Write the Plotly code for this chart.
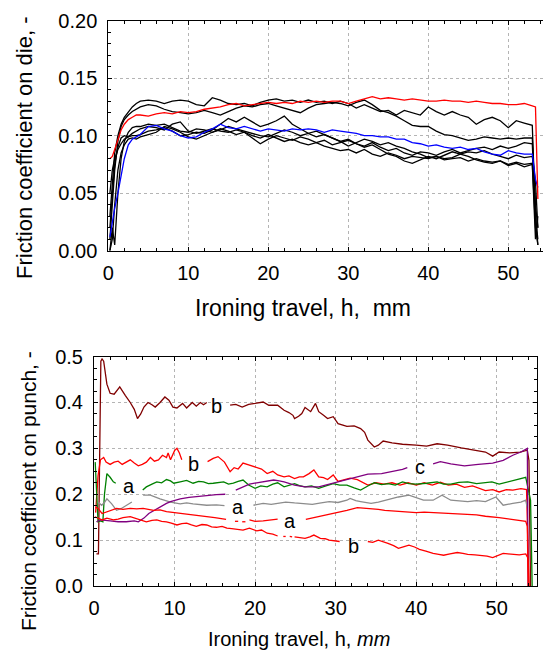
import plotly.graph_objects as go

# ---------------- top chart: friction coefficient on die ----------------
top_x = [0.2, 0.5, 0.8, 1.2, 1.6, 2.0, 2.5, 3.0, 3.5, 4.0,
         5, 6, 7, 8, 9, 10, 11, 12, 13, 14,
         15, 16, 17, 18, 19, 20, 21, 22, 23, 24,
         25, 26, 27, 28, 29, 30, 31, 32, 33, 34,
         35, 36, 37, 38, 39, 40, 41, 42, 43, 44,
         45, 46, 47, 48, 49, 50, 51, 52, 53,
         53.4, 53.7]

die_red = [0.080, 0.082, 0.088, 0.097, 0.105, 0.110, 0.114, 0.116, 0.118, 0.118,
           0.117, 0.119, 0.120, 0.119, 0.121, 0.120, 0.121, 0.123, 0.124, 0.125,
           0.127, 0.128, 0.126, 0.127, 0.128, 0.129, 0.128, 0.129, 0.128, 0.130,
           0.129, 0.130, 0.129, 0.130, 0.130, 0.128, 0.130, 0.132, 0.134, 0.132,
           0.133, 0.132, 0.131, 0.132, 0.131, 0.130, 0.130, 0.131, 0.130, 0.130,
           0.129, 0.130, 0.129, 0.128, 0.128, 0.127, 0.127, 0.128, 0.126,
           0.125, 0.045]

die_blue = [0.012, 0.025, 0.037, 0.050, 0.064, 0.080, 0.092, 0.097, 0.099, 0.101,
            0.108, 0.109, 0.106, 0.104, 0.100, 0.098, 0.099, 0.103, 0.106, 0.110,
            0.107, 0.106, 0.108, 0.106, 0.104, 0.106, 0.105, 0.104, 0.106, 0.105,
            0.106, 0.105, 0.103, 0.105, 0.104, 0.103, 0.102, 0.100, 0.100, 0.099,
            0.099, 0.097, 0.097, 0.094, 0.093, 0.091, 0.092, 0.090, 0.089, 0.090,
            0.088, 0.089, 0.086, 0.084, 0.083, 0.087, 0.085, 0.084, 0.084,
            0.062, 0.055]

die_k1 = [0.030, 0.060, 0.085, 0.100, 0.110, 0.116, 0.121, 0.125, 0.128, 0.130,
          0.131, 0.130, 0.128, 0.130, 0.131, 0.130, 0.127, 0.126, 0.133, 0.131,
          0.128, 0.127, 0.128, 0.126, 0.129, 0.131, 0.132, 0.130, 0.131, 0.129,
          0.131, 0.129, 0.130, 0.128, 0.130, 0.128, 0.124, 0.127, 0.124, 0.121,
          0.122, 0.118, 0.122, 0.120, 0.118, 0.125, 0.121, 0.118, 0.121, 0.118,
          0.116, 0.110, 0.114, 0.116, 0.113, 0.107, 0.113, 0.111, 0.109,
          0.030, 0.005]

die_k2 = [0.010, 0.040, 0.070, 0.095, 0.108, 0.114, 0.118, 0.121, 0.123, 0.125,
          0.127, 0.126, 0.123, 0.121, 0.120, 0.119, 0.120, 0.122, 0.120, 0.118,
          0.121, 0.124, 0.126, 0.125, 0.127, 0.128, 0.126, 0.124, 0.122, 0.120,
          0.124, 0.127, 0.128, 0.129, 0.128, 0.126, 0.129, 0.131, 0.127, 0.122,
          0.120, 0.117, 0.113, 0.109, 0.108, 0.108, 0.104, 0.101, 0.100, 0.098,
          0.096, 0.097, 0.099, 0.098, 0.097, 0.098, 0.097, 0.098, 0.098,
          0.040, 0.020]

die_k3 = [0.000, 0.020, 0.005, 0.050, 0.080, 0.095, 0.103, 0.107, 0.108, 0.108,
          0.110, 0.109, 0.110, 0.107, 0.104, 0.103, 0.106, 0.105, 0.103, 0.106,
          0.104, 0.101, 0.103, 0.100, 0.098, 0.101, 0.098, 0.095, 0.097, 0.094,
          0.092, 0.094, 0.091, 0.089, 0.087, 0.088, 0.085, 0.088, 0.084, 0.082,
          0.085, 0.083, 0.080, 0.082, 0.081, 0.080, 0.082, 0.079, 0.080, 0.081,
          0.078, 0.080, 0.078, 0.077, 0.078, 0.075, 0.077, 0.075, 0.076,
          0.020, 0.005]

die_k4 = [0.020, 0.050, 0.075, 0.090, 0.098, 0.100, 0.099, 0.102, 0.104, 0.106,
          0.108, 0.107, 0.105, 0.110, 0.112, 0.104, 0.102, 0.104, 0.106, 0.104,
          0.103, 0.105, 0.103, 0.098, 0.093, 0.097, 0.100, 0.098, 0.096, 0.099,
          0.097, 0.094, 0.096, 0.092, 0.094, 0.096, 0.093, 0.091, 0.094, 0.090,
          0.087, 0.089, 0.085, 0.083, 0.086, 0.085, 0.083, 0.086, 0.088, 0.085,
          0.087, 0.089, 0.090, 0.088, 0.091, 0.089, 0.091, 0.094, 0.093,
          0.030, 0.010]

die_k5 = [0.050, 0.070, 0.080, 0.088, 0.093, 0.097, 0.099, 0.100, 0.100, 0.101,
          0.104, 0.105, 0.107, 0.104, 0.100, 0.101, 0.103, 0.102, 0.105, 0.110,
          0.115, 0.112, 0.116, 0.112, 0.108, 0.110, 0.113, 0.117, 0.110, 0.106,
          0.102, 0.104, 0.101, 0.098, 0.095, 0.097, 0.093, 0.090, 0.092, 0.088,
          0.084, 0.082, 0.078, 0.076, 0.079, 0.082, 0.080, 0.083, 0.086, 0.084,
          0.082, 0.079, 0.077, 0.076, 0.078, 0.074, 0.076, 0.073, 0.075,
          0.010, 0.030]

die_k6 = [0.000, 0.010, 0.040, 0.070, 0.085, 0.092, 0.097, 0.098, 0.097, 0.099,
          0.101, 0.103, 0.108, 0.106, 0.103, 0.099, 0.097, 0.100, 0.103, 0.105,
          0.108, 0.106, 0.104, 0.102, 0.100, 0.099, 0.102, 0.105, 0.103, 0.100,
          0.102, 0.099, 0.101, 0.098, 0.095, 0.091, 0.094, 0.097, 0.095, 0.092,
          0.094, 0.091, 0.089, 0.086, 0.084, 0.081, 0.082, 0.080, 0.081, 0.084,
          0.086, 0.085, 0.087, 0.084, 0.082, 0.080, 0.083, 0.081, 0.082,
          0.060, 0.020]

# ---------------- bottom chart: friction coefficient on punch ----------------
brown_b_x = [0.3, 0.55, 0.85, 1.0, 1.2, 1.6, 2.0, 2.5, 3.2, 3.5, 3.9, 4.5, 5.0, 5.4, 5.8, 6.2,
             6.7, 7.2, 7.6, 8.2, 8.8, 9.3, 9.8, 10.3, 11.0, 11.5, 12.2, 12.7, 13.2, 13.6, 14.0,
             None, 16.9, 17.6, 18.4, 19.2, 20.0, 21.0, 21.7, 22.8, 23.6, 24.2, 24.7, 24.9,
             25.4, 25.8, 26.2, 26.9, 27.5, 27.9, 28.5, 29.0, 29.7, 30.3, 31.4, 32.3, 33.1,
             33.6, 34.0, 34.8, 35.3, 35.9, 37.0, 38.3, 40.0, 41.3, 42.6, 43.9, 45.6, 47.3,
             48.6, 49.5, 50.3, 51.6, 52.9, 53.8, 54.0, 54.2]
brown_b_y = [0.07, 0.07, 0.49, 0.495, 0.49, 0.44, 0.42, 0.418, 0.434, 0.425, 0.415, 0.40, 0.385,
             0.365, 0.375, 0.39, 0.40, 0.395, 0.39, 0.40, 0.412, 0.405, 0.39, 0.388, 0.398,
             0.388, 0.40, 0.392, 0.40, 0.395, 0.40,
             None, 0.394, 0.396, 0.39, 0.396, 0.398, 0.401, 0.394, 0.394, 0.383, 0.378, 0.372,
             0.365, 0.37, 0.376, 0.389, 0.38, 0.398, 0.38, 0.372, 0.365, 0.369, 0.354, 0.348,
             0.349, 0.343, 0.335, 0.318, 0.303, 0.307, 0.316, 0.312, 0.309, 0.307, 0.305,
             0.31, 0.307, 0.301, 0.296, 0.292, 0.283, 0.292, 0.29, 0.292, 0.296, 0.274, 0.0]

red_b_up_x = [0.2, 0.5, 0.8, 1.2, 1.5, 2.0, 2.5, 3.0, 3.5, 4.0, 4.5, 5.0, 5.5, 6.0, 6.5, 7.0,
              7.5, 8.0, 8.5, 9.0, 9.2, 9.5, 10.0, 10.3, 10.6, 10.9,
              None, 14.1, 14.8, 15.4, 16.2, 16.9, 17.4, 17.9, 18.5, 19.2, 20.0, 20.8, 21.5,
              22.2, 22.8, 23.6, 24.2, 24.9, 25.5, 26.0, 26.7, 27.3, 27.9, 28.5, 29.0, 29.7,
              30.3, 30.9, 31.8, 32.7, 33.4, 34.0, 35, 36, 37, 38, 39, 40, 41, 42, 43, 44,
              45, 46, 47, 48, 48.6, 49.5, 50.3, 51.2, 52.0, 53.0, 53.7, 54.0]
red_b_up_y = [0.16, 0.24, 0.275, 0.28, 0.27, 0.265, 0.27, 0.272, 0.265, 0.27, 0.275, 0.268,
              0.262, 0.265, 0.27, 0.28, 0.272, 0.275, 0.285, 0.28, 0.29, 0.275, 0.295, 0.30,
              0.29, 0.275,
              None, 0.271, 0.278, 0.282, 0.27, 0.249, 0.258, 0.255, 0.268, 0.264, 0.26, 0.255,
              0.245, 0.25, 0.242, 0.238, 0.240, 0.234, 0.238, 0.238, 0.245, 0.253, 0.238,
              0.236, 0.232, 0.242, 0.228, 0.231, 0.235, 0.232, 0.225, 0.22, 0.225, 0.222,
              0.225, 0.22, 0.225, 0.22, 0.225, 0.22, 0.226, 0.22, 0.222, 0.215, 0.218, 0.212,
              0.208, 0.21, 0.205, 0.21, 0.209, 0.212, 0.21, 0.0]

green_a_x = [0.15, 0.3, 0.5, 0.8, 1.1, 1.3, 1.6, 2.0, 2.4, 2.7,
             None, 6.05, 6.5, 7.2, 7.8, 8.4, 9.0, 9.5, 9.9, 10.7, 11.5, 12.3, 13.0, 13.6,
             14.2, 14.8, 15.5, 16.1, 16.7, 17.3, 17.9, 18.5, 19.2, 20.0, 20.7, 21.5, 22.2,
             22.8, 23.6, 24.2, 24.9, 25.5, 26.2, 27.0, 27.9, 28.8, 29.7, 30.5, 31.4, 32.3,
             33.1, 34.0, 34.8, 35.7, 36.5, 37.4, 38.3, 39.1, 40.0, 41.3, 42.6, 43.4, 44.3,
             45.3, 46.4, 47.5, 48.6, 49.4, 50.3, 51.2, 52.0, 52.8, 53.6, 54.2, 54.4]
green_a_y = [0.27, 0.20, 0.14, 0.142, 0.14, 0.20, 0.245, 0.237, 0.227, 0.224,
             None, 0.209, 0.216, 0.222, 0.227, 0.225, 0.232, 0.229, 0.224, 0.227, 0.23,
             0.224, 0.228, 0.227, 0.223, 0.224, 0.226, 0.227, 0.222, 0.224, 0.228, 0.231,
             0.22, 0.213, 0.218, 0.216, 0.222, 0.225, 0.216, 0.219, 0.223, 0.219, 0.216,
             0.218, 0.213, 0.218, 0.223, 0.22, 0.22, 0.214, 0.209, 0.218, 0.225, 0.221,
             0.223, 0.22, 0.227, 0.223, 0.222, 0.224, 0.227, 0.222, 0.222, 0.226, 0.227,
             0.223, 0.225, 0.227, 0.222, 0.226, 0.229, 0.232, 0.237, 0.187, 0.0]

gray_a_x = [0.5, 0.95, 1.3, 1.6, 2.2, 2.8, 3.4, 4.0, 4.7,
            None, 6.1, 7.0, 8.2, 9.5, 10.7, 11.5, 12.3, 13.2, 14.0, 15.2, 16.2,
            None, 19.8, 21.0, 22.0, 22.8, 23.8, 24.9, 26.0, 27.1, 28.2, 29.2, 30.3, 31.4,
            31.8, 32.5, 33.1, 34.4, 35.3, 36.1, 37.0, 37.8, 39.1, 40.0, 40.9, 42.1, 43.2,
            44.3, 45.4, 46.4, 47.5, 48.6, 49.9, 50.8, 52.0, 53.0, 53.6, 53.8]
gray_a_y = [0.183, 0.176, 0.182, 0.19, 0.179, 0.165, 0.169, 0.176, 0.183,
            None, 0.198, 0.198, 0.19, 0.183, 0.179, 0.181, 0.179, 0.177, 0.176, 0.177, 0.175,
            None, 0.176, 0.18, 0.178, 0.18, 0.183, 0.181, 0.179, 0.178, 0.181, 0.184, 0.182,
            0.187, 0.191, 0.186, 0.184, 0.18, 0.183, 0.187, 0.19, 0.194, 0.198, 0.193, 0.187,
            0.187, 0.198, 0.187, 0.186, 0.184, 0.186, 0.184, 0.194, 0.176, 0.18, 0.183,
            0.187, 0.17]

purple_c_x = [0.3, 0.8, 2.0, 3.0, 4.0, 5.0, 5.5, 6.2, 6.8, 7.5, 8.2, 9.0, 9.5, 10.7, 11.8,
              12.7, 14.1, 15.2, 16.3,
              None, 17.6, 18.5, 19.3, 20.2, 21.0, 22.3, 23.0, 23.6, 24.9, 26.2, 27.9, 29.2,
              30.0, 30.9, 32.7, 34.0, 35.7, 37.0, 38.3, 38.9,
              None, 42.1, 43.0, 44.3, 46.0, 47.7, 49.5, 50.8, 52.0, 53.0, 53.6, 53.8, 53.9]
purple_c_y = [0.14, 0.144, 0.142, 0.14, 0.14, 0.142, 0.14, 0.148, 0.158, 0.165, 0.173, 0.18,
              0.184, 0.19, 0.193, 0.195, 0.198, 0.199, 0.2,
              None, 0.209, 0.215, 0.222, 0.225, 0.227, 0.231, 0.229, 0.227, 0.22, 0.216,
              0.216, 0.222, 0.226, 0.231, 0.238, 0.244, 0.245, 0.249, 0.254, 0.258,
              None, 0.266, 0.271, 0.266, 0.262, 0.265, 0.268, 0.274, 0.285, 0.292, 0.298,
              0.30, 0.0]

red_a_x = [0.2, 0.5, 1.0, 1.6, 2.2, 2.8, 3.6, 4.5, 5.3, 6.1, 7.4, 8.2, 9.0, 9.8, 10.7, 11.5,
           12.3, 13.2, 14.0, 15.0, 16.0, 16.4, None, 17.5, 17.9, None, 18.4, 18.8, None,
           19.3, 20.0, 21.0, 21.8, 22.8,
           None, 26.3, 27.1, 27.9, 28.8, 29.7, 30.5, 31.4, 32.7, 33.5, 34.4, 35.3, 36.1,
           37.2, 38.3, 40.0, 41.0, 42.1, 43.2, 44.3, 45.4, 46.4, 47.5, 48.6, 49.5, 50.3,
           51.2, 52.0, 53.0, 53.6, 53.8, 53.9]
red_a_y = [0.172, 0.169, 0.158, 0.162, 0.165, 0.169, 0.167, 0.169, 0.168, 0.169, 0.165,
           0.166, 0.162, 0.16, 0.158, 0.157, 0.155, 0.153, 0.151, 0.149, 0.146, 0.145, None,
           0.141, 0.141, None, 0.14, 0.14, None, 0.144, 0.141, 0.142, 0.144, 0.146,
           None, 0.145, 0.148, 0.152, 0.155, 0.158, 0.161, 0.165, 0.171, 0.17, 0.168, 0.167,
           0.165, 0.164, 0.162, 0.16, 0.161, 0.16, 0.159, 0.158, 0.158, 0.157, 0.155, 0.152,
           0.151, 0.149, 0.147, 0.145, 0.143, 0.141, 0.13, 0.0]

red_b_low_x = [0.1, 0.5, 1.0, 1.6, 2.4, 3.0, 3.6, 4.5, 5.3, 6.5, 7.2, 7.8, 8.4, 9.0, 9.6,
               10.3, 10.9, 11.5, 12.1, 12.7, 13.4, 14.0, 14.6, 15.2, 15.9, 16.5, 17.1, 17.7,
               18.5, 19.3, 20.2, 20.8, 21.5, 22.2, 22.8, None, 23.5, 23.8, None, 24.3, 24.6,
               None, 24.9, 25.5, 26.2, 26.8, 27.3, 28.1, 28.7, 29.2, 29.9, 30.5,
               None, 34.0, 34.6, 35.3, 35.9, 36.5, 37.2, 37.8, 38.5, 39.1, 39.8, 40.4, 41.2,
               42.1, 42.8, 43.4, 44.2, 45.1, 45.8, 46.4, 47.3, 48.2, 48.8, 49.5, 50.1, 50.8,
               51.4, 52.0, 52.8, 53.6, 53.9, 54.0]
red_b_low_y = [0.151, 0.148, 0.144, 0.148, 0.144, 0.146, 0.149, 0.151, 0.146, 0.14, 0.143,
               0.144, 0.141, 0.14, 0.137, 0.133, 0.136, 0.137, 0.133, 0.13, 0.134, 0.133,
               0.129, 0.128, 0.13, 0.126, 0.125, 0.124, 0.122, 0.126, 0.12, 0.122, 0.115,
               0.113, 0.109, None, 0.108, 0.108, None, 0.108, 0.107,
               None, 0.107, 0.106, 0.104, 0.107, 0.111, 0.104, 0.103, 0.1, 0.099, 0.097,
               None, 0.097, 0.095, 0.1, 0.097, 0.093, 0.088, 0.082, 0.086, 0.089, 0.085,
               0.08, 0.076, 0.071, 0.069, 0.067, 0.07, 0.073, 0.071, 0.069, 0.068, 0.067,
               0.065, 0.062, 0.066, 0.071, 0.07, 0.069, 0.068, 0.07, 0.06, 0.0]

curve_labels = ["b", "b", "a", "a", "a", "b", "c"]
curve_label_x = [15.2, 12.4, 4.35, 17.85, 24.3, 32.2, 40.5]
curve_label_y = [0.392, 0.267, 0.218, 0.173, 0.142, 0.087, 0.260]

top_xticks = [0, 10, 20, 30, 40, 50]
top_yticks = [0.00, 0.05, 0.10, 0.15, 0.20]
bot_xticks = [0, 10, 20, 30, 40, 50]
bot_yticks = [0.0, 0.1, 0.2, 0.3, 0.4, 0.5]

# ---------------- figure ----------------
W, H = 543, 651
FONT = "Liberation Sans, Arial, Helvetica, sans-serif"
fig = go.Figure()


def add_line(x, y, color, xa, ya, width=1.3):
    fig.add_trace(go.Scatter(x=x, y=y, mode="lines", xaxis=xa, yaxis=ya,
                             line=dict(color=color, width=width),
                             connectgaps=False, hoverinfo="skip"))


for series in [die_k1, die_k2, die_k3, die_k4, die_k5, die_k6]:
    add_line(top_x, series, "black", "x", "y")
add_line(top_x, die_blue, "#0000ff", "x", "y")
add_line(top_x, die_red, "#ff0000", "x", "y")

add_line(brown_b_x, brown_b_y, "#800000", "x2", "y2")
add_line(red_b_up_x, red_b_up_y, "#ff0000", "x2", "y2")
add_line(green_a_x, green_a_y, "#008000", "x2", "y2")
add_line(gray_a_x, gray_a_y, "#8c8c8c", "x2", "y2")
add_line(purple_c_x, purple_c_y, "#800080", "x2", "y2")
add_line(red_a_x, red_a_y, "#ff0000", "x2", "y2")
add_line(red_b_low_x, red_b_low_y, "#ff0000", "x2", "y2")


def px_x(p):
    return p / W


def px_y(p):
    return 1 - p / H


axis_common = dict(showline=True, linecolor="black", linewidth=1, ticks="inside",
                   ticklen=4, tickcolor="black", showgrid=True, gridcolor="#b4b4b4",
                   griddash="dot", gridwidth=1, zeroline=False, automargin=False,
                   tickfont=dict(family=FONT, size=20, color="black"))

fig.update_layout(
    template="none",
    width=W, height=H, margin=dict(l=0, r=0, t=0, b=0, pad=0, autoexpand=False),
    paper_bgcolor="white", plot_bgcolor="white", showlegend=False,
    hovermode=False, dragmode=False,
    xaxis=dict(axis_common, domain=[px_x(108.3), 1.0], range=[0, 54.34], anchor="y",
               tickvals=top_xticks, mirror="ticks", ticklabelstandoff=4,
               minor=dict(dtick=2, ticks="inside", ticklen=3, tickcolor="black", showgrid=False)),
    yaxis=dict(axis_common, domain=[px_y(250.7), px_y(20.7)], range=[0, 0.2], anchor="x",
               tickvals=top_yticks, tickformat=".2f", mirror=False, ticklabelstandoff=6,
               minor=dict(dtick=0.01, ticks="inside", ticklen=3, tickcolor="black", showgrid=False)),
    xaxis2=dict(axis_common, domain=[px_x(94), px_x(537)], range=[0, 55], anchor="y2",
                tickvals=bot_xticks, mirror="ticks", ticklabelstandoff=4,
                minor=dict(dtick=2, ticks="inside", ticklen=3, tickcolor="black", showgrid=False)),
    yaxis2=dict(axis_common, domain=[px_y(586), px_y(356.6)], range=[0, 0.5], anchor="x2",
                tickvals=bot_yticks, tickformat=".1f", mirror="ticks", ticklabelstandoff=6,
                minor=dict(dtick=0.025, ticks="inside", ticklen=3, tickcolor="black", showgrid=False)),
)

annotations = [
    dict(text="Friction coefficient on die, -", x=px_x(24), y=px_y(148), textangle=-90,
         font=dict(family=FONT, size=22, color="black")),
    dict(text="Ironing travel, h,\u00a0 mm", x=px_x(303), y=px_y(308),
         font=dict(family=FONT, size=23, color="black")),
    dict(text="Friction coefficient on punch, -", x=px_x(28), y=px_y(491), textangle=-90,
         font=dict(family=FONT, size=21, color="black")),
    dict(text="Ironing travel, h, <i>mm</i>", x=px_x(299), y=px_y(639),
         font=dict(family=FONT, size=20, color="black")),
]
for a in annotations:
    a.update(xref="paper", yref="paper", xanchor="center", yanchor="middle", showarrow=False)

for t, lx, ly in zip(curve_labels, curve_label_x, curve_label_y):
    annotations.append(dict(text=t, x=lx, y=ly, xref="x2", yref="y2", showarrow=False,
                            xanchor="center", yanchor="middle",
                            font=dict(family=FONT, size=20, color="black")))

fig.update_layout(annotations=annotations)
fig.write_html("out.html", config={"displayModeBar": False, "staticPlot": True},
               post_script="document.body.style.margin='0';document.body.style.overflow='hidden';")
